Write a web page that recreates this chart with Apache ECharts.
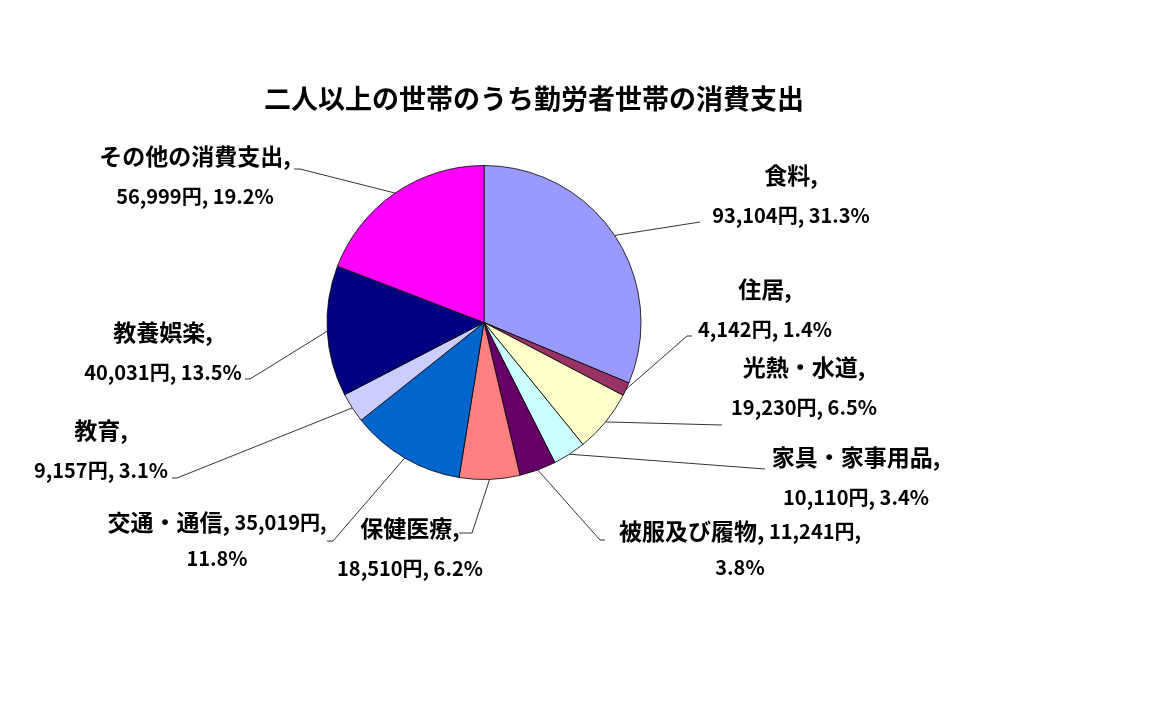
<!DOCTYPE html>
<html>
<head>
<meta charset="utf-8">
<script src="https://cdn.jsdelivr.net/npm/echarts@6/dist/echarts.min.js"></script>
<style>
  html, body { margin: 0; padding: 0; background: #fff; }
  #main { width: 1149px; height: 717px; }
</style>
</head>
<body>
<div id="main"></div>
<script>
var titleText = '二人以上の世帯のうち勤労者世帯の消費支出';
var names = ['食料', '住居', '光熱・水道', '家具・家事用品', '被服及び履物', '保健医療', '交通・通信', '教育', '教養娯楽', 'その他の消費支出'];
var values = [93104, 4142, 19230, 10110, 11241, 18510, 35019, 9157, 40031, 56999];
var percents = ['31.3', '1.4', '6.5', '3.4', '3.8', '6.2', '11.8', '3.1', '13.5', '19.2'];
// line break after "円," instead of after the name
var wrapAfterYen = [false, false, false, false, true, false, true, false, false, false];
var colors = ['#9999FF', '#993366', '#FFFFCC', '#CCFFFF', '#660066', '#FF8080', '#0066CC', '#CCCCFF', '#000080', '#FF00FF'];

// label block centres and leader line bends/ends (px)
var labelPos = [[791, 195], [765, 309], [804, 387], [856, 477], [740, 549], [410, 548], [217, 540], [101, 450], [163, 352], [195, 176]];
var lineBend = [[700, 222], [687, 336], [722, 425], [765, 469], [600, 540], [472, 533], [333, 541], [177, 478], [250, 379], [300, 169]];
var lineEnd = [[700, 222], [692, 336], [722, 425], [765, 469], [605, 540], [459, 533], [327, 541], [172, 478], [245, 379], [294, 169]];

var labelText = function (i) {
    var yen = values[i].toLocaleString('en-US') + '円,';
    if (wrapAfterYen[i]) {
        return '{m|' + names[i] + ',}{w| ' + yen + '}\n{w|' + percents[i] + '%}';
    }
    return '{n|' + names[i] + ',}\n{v|' + yen + ' ' + percents[i] + '%}';
};

var option = {
    backgroundColor: '#ffffff',
    animation: false,
    title: {
        text: titleText,
        left: 259,
        top: 80,
        textStyle: {
            fontFamily: 'Noto Sans CJK JP',
            fontWeight: 'bold',
            fontSize: 27,
            color: '#000'
        }
    },
    series: [
        {
            type: 'pie',
            center: [484, 322.5],
            radius: 157,
            startAngle: 90,
            clockwise: true,
            avoidLabelOverlap: false,
            data: names.map(function (n, i) {
                return { name: n, value: values[i], itemStyle: { color: colors[i] } };
            }),
            itemStyle: {
                borderColor: '#000',
                borderWidth: 0.8
            },
            label: {
                show: true,
                position: 'outside',
                formatter: function (p) { return labelText(p.dataIndex); },
                fontFamily: 'Noto Sans CJK JP',
                fontWeight: 'bold',
                color: '#000',
                align: 'center',
                rich: {
                    n: { fontFamily: 'Noto Sans CJK JP', fontWeight: 'bold', fontSize: 23, lineHeight: 40, color: '#000' },
                    v: { fontFamily: 'Noto Sans CJK JP', fontWeight: 'bold', fontSize: 20, lineHeight: 40, color: '#000' },
                    m: { fontFamily: 'Noto Sans CJK JP', fontWeight: 'bold', fontSize: 23, lineHeight: 36, color: '#000' },
                    w: { fontFamily: 'Noto Sans CJK JP', fontWeight: 'bold', fontSize: 20, lineHeight: 36, color: '#000' }
                }
            },
            labelLine: {
                show: true,
                length: 10,
                length2: 10,
                lineStyle: { color: '#000', width: 0.8 }
            },
            labelLayout: function (params) {
                var i = params.dataIndex;
                var start = params.labelLinePoints[0];
                return {
                    x: labelPos[i][0],
                    y: labelPos[i][1],
                    align: 'center',
                    verticalAlign: 'middle',
                    labelLinePoints: [start, lineBend[i], lineEnd[i]]
                };
            },
            emphasis: { disabled: true }
        }
    ]
};

var myChart = echarts.init(document.getElementById('main'));
myChart.setOption(option);
</script>
</body>
</html>
